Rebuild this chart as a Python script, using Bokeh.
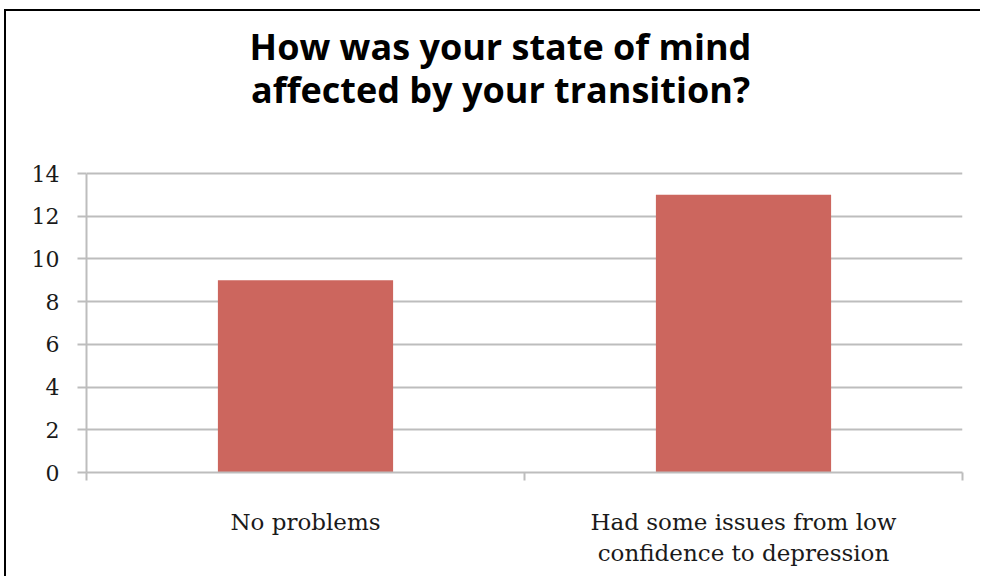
from bokeh.plotting import figure
from bokeh.models import Range1d, FixedTicker
from bokeh.core.properties import value
from bokeh.embed import file_html
from bokeh.resources import INLINE

categories = ["No problems", "Had some issues from low\nconfidence to depression"]
counts = [9, 13]
y_ticks = [0, 2, 4, 6, 8, 10, 12, 14]
title_lines = ["How was your state of mind", "affected by your transition?"]

x_pos = [i + 0.5 for i in range(len(categories))]

# frame: 876 px wide, 461 px tall; the value axis (0..14) uses the lower 299 px,
# the upper part of the frame holds the title
FRAME_W, FRAME_H, AXIS_H = 876, 461, 299
y_max = max(y_ticks)
y_top = y_max * FRAME_H / AXIS_H

p = figure(width=974, height=565, output_backend="svg", toolbar_location=None,
           x_range=Range1d(0, len(categories)), y_range=Range1d(0, y_top),
           min_border_left=80, min_border_right=18, min_border_top=0,
           min_border_bottom=104, frame_width=FRAME_W, frame_height=FRAME_H)
p.extra_x_ranges = {"px": Range1d(0, FRAME_W)}
p.extra_y_ranges = {"px": Range1d(0, FRAME_H)}
p.styles = {"margin-left": "4px", "margin-top": "9px",
            "border-left": "2px solid black", "border-top": "2px solid black"}
p.outline_line_color = None
p.background_fill_color = "white"
p.border_fill_color = "white"

grey = "#bdbdbd"
p.xgrid.grid_line_color = None
p.ygrid.ticker = FixedTicker(ticks=y_ticks)
p.ygrid.grid_line_color = grey
p.ygrid.grid_line_width = 2

p.vbar(x=x_pos, top=counts, width=0.4, fill_color="#cc665e", line_color=None)

# y axis
p.yaxis.ticker = FixedTicker(ticks=y_ticks)
p.yaxis.bounds = (0, y_max)
p.yaxis.axis_line_color = grey
p.yaxis.axis_line_width = 2
p.yaxis.major_tick_line_color = grey
p.yaxis.major_tick_line_width = 2
p.yaxis.major_tick_out = 9
p.yaxis.major_tick_in = 0
p.yaxis.minor_tick_line_color = None
p.yaxis.major_label_standoff = 18
p.yaxis.major_label_text_font = "DejaVu Serif"
p.yaxis.major_label_text_font_size = "22px"
p.yaxis.major_label_text_color = "#1a1a1a"

# x axis
p.xaxis.ticker = FixedTicker(ticks=x_pos, minor_ticks=list(range(len(categories) + 1)))
p.xaxis.major_label_overrides = {x: c for x, c in zip(x_pos, categories)}
p.xaxis.axis_line_color = grey
p.xaxis.axis_line_width = 2
p.xaxis.major_tick_line_color = None
p.xaxis.minor_tick_line_color = grey
p.xaxis.minor_tick_line_width = 2
p.xaxis.minor_tick_out = 8
p.xaxis.minor_tick_in = 0
p.xaxis.major_label_standoff = 28
p.xaxis.major_label_text_font = "DejaVu Serif"
p.xaxis.major_label_text_font_size = "23px"
p.xaxis.major_label_text_color = "#1a1a1a"
p.xaxis.major_label_text_line_height = 1.2

# title (two centred lines, baselines 43 px apart)
title_x = [414, 414]
title_y = [FRAME_H - 35, FRAME_H - 78]
p.text(x=title_x, y=title_y, text=title_lines, x_range_name="px", y_range_name="px",
       text_align="center", text_baseline="alphabetic",
       text_font=value("Open Sans"), text_font_size="36px", text_font_style="bold",
       text_color="black")

open("out.html", "w").write(file_html(p, INLINE))
